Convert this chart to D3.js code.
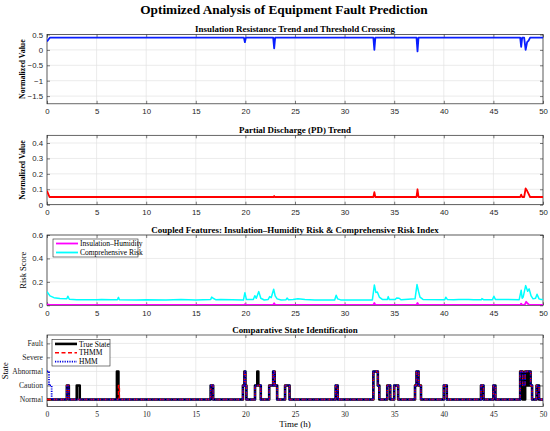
<!DOCTYPE html>
<html><head><meta charset="utf-8">
<script src="https://cdn.jsdelivr.net/npm/d3@7"></script>
<style>body{margin:0;background:#fff}svg{display:block}</style>
</head><body>
<script>
// ---------------- DATA ----------------
const timeTicks = [0,5,10,15,20,25,30,35,40,45,50];
const insTicks = [-1.5,-1,-0.5,0,0.5];
const pdTicks = [0,0.1,0.2,0.3,0.4];
const riskTicks = [0,0.2,0.4,0.6];
const stateLabels = ["Normal","Caution","Abnormal","Severe","Fault"];
const stateLevels = [1,2,3,4,5];

// Insulation resistance (normalized) [t, value]
const insulation = [[0,0.27],[0.3,0.4],[19.85,0.4],[19.95,0.25],[20.05,0.4],[22.8,0.4],[22.9,0.05],[23.0,0.4],
 [32.9,0.4],[33.0,0.0],[33.1,0.4],[37.25,0.4],[37.35,-0.05],[37.45,0.4],[47.7,0.4],[47.8,0.1],[47.9,0.4],
 [48.1,0.4],[48.25,0.0],[48.4,0.25],[48.55,0.3],[48.7,0.4],[50,0.4]];
// Partial discharge [t, value]
const pd = [[0,0.09],[0.25,0.05],[22.85,0.05],[22.9,0.056],[22.95,0.05],[32.9,0.05],[33.0,0.082],[33.1,0.05],
 [37.25,0.05],[37.35,0.10],[37.45,0.05],[47.7,0.05],[47.8,0.065],[47.9,0.05],[48.1,0.05],[48.25,0.105],
 [48.4,0.09],[48.55,0.07],[48.7,0.05],[50,0.05]];
// Insulation–Humidity risk [t, value]
const insHum = [[0,0.008],[0.3,0.003],[19.9,0.003],[19.95,0.01],[20.05,0.003],[22.8,0.003],[22.9,0.018],[23.0,0.003],
 [32.9,0.003],[33.0,0.02],[33.1,0.003],[37.25,0.003],[37.35,0.02],[37.45,0.003],[47.7,0.003],[47.8,0.014],
 [47.9,0.003],[48.15,0.003],[48.3,0.03],[48.45,0.015],[48.6,0.005],[50,0.003]];
// Comprehensive risk [t, value]
const compRisk = [[0,0.117],[0.3,0.08],[0.7,0.065],[1.3,0.058],[2.0,0.055],[2.1,0.078],[2.25,0.052],[3,0.048],
 [5,0.047],[5.5,0.05],[6.5,0.047],[7.1,0.047],[7.2,0.068],[7.3,0.047],[9,0.045],[10,0.047],[12,0.045],
 [13.5,0.05],[15,0.045],[16.5,0.05],[16.6,0.07],[16.75,0.06],[17.0,0.048],[17.5,0.05],[19.8,0.045],
 [19.95,0.108],[20.1,0.05],[20.8,0.05],[20.95,0.082],[21.1,0.06],[21.35,0.117],[21.55,0.06],[21.9,0.045],
 [22.3,0.05],[22.45,0.074],[22.6,0.065],[22.85,0.137],[23.0,0.08],[23.2,0.055],[23.6,0.045],[24.1,0.048],
 [24.2,0.062],[24.35,0.047],[24.8,0.05],[25.3,0.055],[26,0.05],[27,0.046],[29.0,0.046],[29.15,0.086],
 [29.3,0.055],[29.6,0.046],[32.8,0.046],[33.0,0.174],[33.15,0.11],[33.3,0.114],[33.5,0.07],[33.8,0.05],
 [34.3,0.05],[34.4,0.074],[34.5,0.05],[35.1,0.05],[35.25,0.063],[35.5,0.06],[35.7,0.047],[37.1,0.055],
 [37.3,0.177],[37.45,0.12],[37.6,0.07],[37.9,0.05],[40.1,0.047],[40.2,0.069],[40.35,0.05],[41,0.047],
 [41.5,0.05],[42.5,0.05],[43,0.047],[43.8,0.048],[43.85,0.057],[44,0.048],[44.9,0.048],[45.05,0.077],
 [45.2,0.05],[47.6,0.048],[47.8,0.129],[47.9,0.06],[48.0,0.07],[48.25,0.168],[48.45,0.12],[48.6,0.14],
 [48.8,0.08],[49.0,0.055],[49.25,0.06],[49.4,0.094],[49.6,0.055],[49.8,0.05],[50,0.05]];

// State change points [t, state]  (1 Normal .. 5 Fault)
const trueState = [[0,1],[2.0,2],[2.2,1],[3.0,2],[3.3,1],[7.05,3],[7.2,1],[16.5,2],[16.75,1],
 [19.75,2],[19.9,3],[20.0,2],[20.1,1],[20.97,2],[21.2,3],[21.3,2],[21.55,1],[22.4,2],[22.8,3],[22.95,2],[23.2,1],
 [24.0,2],[24.45,1],[29.1,2],[29.3,1],[32.9,3],[33.35,2],[33.5,1],[34.3,2],[34.6,1],[35.0,2],[35.4,1],
 [37.1,2],[37.25,3],[37.45,2],[37.7,1],[40.0,2],[40.3,1],[43.75,2],[44.0,1],[45.0,2],[45.2,1],
 [47.7,3],[47.95,1],[48.02,2],[48.1,1],[48.2,3],[48.35,2],[48.45,3],[48.55,2],[48.62,3],
 [48.75,2],[48.9,1],[49.35,2],[49.6,1],[50,1]];
const thmmState = [[0,1],[2.0,2],[2.2,1],[7.2,2],[7.3,1],[16.5,2],[16.75,1],
 [19.75,2],[19.9,3],[20.0,2],[20.1,1],[20.97,2],[21.55,1],[22.4,2],[22.8,3],[22.95,2],[23.2,1],
 [24.0,2],[24.45,1],[29.1,2],[29.3,1],[32.9,3],[33.35,2],[33.5,1],[34.3,2],[34.6,1],[35.0,2],[35.4,1],
 [37.1,2],[37.25,3],[37.45,2],[37.7,1],[40.0,2],[40.3,1],[43.75,2],[44.0,1],[45.0,2],[45.2,1],
 [47.7,3],[47.95,2],[48.2,3],[48.75,2],[48.9,1],[49.35,2],[49.6,1],[50,1]];
const hmmState = [[0,3],[0.2,2],[0.47,1],[2.0,2],[2.2,1],[16.5,2],[16.75,1],
 [19.75,2],[19.9,3],[20.0,2],[20.1,1],[20.97,2],[21.55,1],[22.4,2],[22.8,3],[22.95,2],[23.2,1],
 [24.0,2],[24.45,1],[29.1,2],[29.3,1],[32.9,3],[33.35,2],[33.5,1],[34.3,2],[34.6,1],[35.0,2],[35.4,1],
 [37.1,2],[37.25,3],[37.45,2],[37.7,1],[40.0,2],[40.3,1],[43.75,2],[44.0,1],[45.0,2],[45.2,1],
 [47.7,3],[47.95,2],[48.2,3],[48.75,2],[48.9,1],[49.35,2],[49.6,1],[50,1]];

// ---------------- DRAW ----------------
const W = 550, H = 431;
const SERIF = "'Liberation Serif','Times New Roman',serif";
const SANS = "'Liberation Sans',Arial,Helvetica,sans-serif";
const svg = d3.select("body").append("svg").attr("width", W).attr("height", H);
const L = 47, R = 543;
const x = d3.scaleLinear().domain([0, 50]).range([L, R]);

svg.append("text").attr("x", 284).attr("y", 14).attr("text-anchor", "middle")
  .style("font-family", SERIF).style("font-weight", "bold").style("font-size", "13.3px")
  .text("Optimized Analysis of Equipment Fault Prediction");

function panel(o) {
  const y = d3.scaleLinear().domain(o.domain).range([o.bottom, o.top]);
  const g = svg.append("g");
  g.selectAll(".gx").data(timeTicks).join("line")
    .attr("x1", d => x(d)).attr("x2", d => x(d)).attr("y1", o.top).attr("y2", o.bottom)
    .attr("stroke", "#e3e3e3").attr("stroke-width", 0.7);
  g.selectAll(".gy").data(o.yticks).join("line")
    .attr("x1", L).attr("x2", R).attr("y1", d => y(d)).attr("y2", d => y(d))
    .attr("stroke", "#e3e3e3").attr("stroke-width", 0.7);
  const tickFont = o.serifTicks ? SERIF : SANS;
  const fs = o.serifTicks ? "7.6px" : "7.8px";
  const ax = g.append("g").attr("transform", `translate(0,${o.bottom})`)
    .call(d3.axisBottom(x).tickValues(timeTicks).tickSize(-3).tickPadding(5).tickFormat(d3.format("d")));
  const axT = g.append("g").attr("transform", `translate(0,${o.top})`)
    .call(d3.axisTop(x).tickValues(timeTicks).tickSize(-3).tickFormat(""));
  const ay = g.append("g").attr("transform", `translate(${L},0)`)
    .call(d3.axisLeft(y).tickValues(o.yticks).tickSize(-3).tickPadding(4).tickFormat(o.fmt));
  const ayR = g.append("g").attr("transform", `translate(${R},0)`)
    .call(d3.axisRight(y).tickValues(o.yticks).tickSize(-3).tickFormat(""));
  [ax, axT, ay, ayR].forEach(a => {
    a.attr("font-size", null).attr("font-family", null);
    a.select(".domain").remove();
    a.selectAll("line").attr("stroke", "#262626").attr("stroke-width", 0.6);
    a.selectAll("text").style("font-family", tickFont).style("font-size", fs).attr("fill", "#262626");
  });
  g.append("rect").attr("x", L).attr("y", o.top).attr("width", R - L).attr("height", o.bottom - o.top)
    .attr("fill", "none").attr("stroke", "#262626").attr("stroke-width", 0.7);
  svg.append("text").attr("x", 295).attr("y", o.top - 2.5).attr("text-anchor", "middle")
    .style("font-family", SERIF).style("font-weight", "bold").style("font-size", "8.95px").text(o.title);
  svg.append("text").attr("transform", `translate(${o.ylx},${(o.top + o.bottom) / 2}) rotate(-90)`)
    .attr("text-anchor", "middle").style("font-family", SERIF)
    .style("font-weight", o.ylBold ? "bold" : "normal").style("font-size", o.ylSize || "8.5px").text(o.ylabel);
  const clip = "clip" + Math.round(o.top);
  svg.append("clipPath").attr("id", clip).append("rect")
    .attr("x", L).attr("y", o.top).attr("width", R - L).attr("height", o.bottom - o.top);
  const plot = svg.append("g").attr("clip-path", `url(#${clip})`);
  return { y, plot };
}

function drawLine(p, data, color, w, dash, curve) {
  const line = d3.line().x(d => x(d[0])).y(d => p.y(d[1])).curve(curve || d3.curveLinear);
  p.plot.append("path").datum(data).attr("d", line).attr("fill", "none")
    .attr("stroke", color).attr("stroke-width", w).attr("stroke-linejoin", "round")
    .attr("stroke-dasharray", dash || null);
}

function legend(items, bx, by, bw, bh) {
  const g = svg.append("g");
  g.append("rect").attr("x", bx).attr("y", by).attr("width", bw).attr("height", bh)
    .attr("fill", "#fff").attr("stroke", "#262626").attr("stroke-width", 0.6);
  const step = bh / items.length;
  items.forEach((it, i) => {
    const yy = by + step * (i + 0.5);
    g.append("line").attr("x1", bx + 3).attr("x2", bx + 25).attr("y1", yy).attr("y2", yy)
      .attr("stroke", it.color).attr("stroke-width", it.w).attr("stroke-dasharray", it.dash || null);
    g.append("text").attr("x", bx + 27).attr("y", yy + 2.7).style("font-family", SERIF)
      .style("font-size", "7.5px").text(it.label);
  });
}

const p1 = panel({ top: 34.5, bottom: 103.8, domain: [-1.75, 0.5], yticks: insTicks, fmt: d3.format("~g"),
  title: "Insulation Resistance Trend and Threshold Crossing", ylabel: "Normalized Value", ylx: 25, ylBold: true, ylSize: "7.8px" });
drawLine(p1, insulation, "#0a1fff", 1.8);

const p2 = panel({ top: 135.3, bottom: 204.7, domain: [0, 0.45], yticks: pdTicks, fmt: d3.format("~g"),
  title: "Partial Discharge (PD) Trend", ylabel: "Normalized Value", ylx: 25, ylBold: true, ylSize: "7.8px" });
drawLine(p2, pd, "#ff0000", 1.8);

const p3 = panel({ top: 235, bottom: 305.3, domain: [0, 0.6], yticks: riskTicks, fmt: d3.format("~g"),
  title: "Coupled Features: Insulation–Humidity Risk & Comprehensive Risk Index", ylabel: "Risk Score", ylx: 26 });
drawLine(p3, insHum, "#ff00ff", 1.8);
drawLine(p3, compRisk, "#00ffff", 1.5);
legend([{ label: "Insulation–Humidity", color: "#ff00ff", w: 1.8 },
        { label: "Comprehensive Risk", color: "#00ffff", w: 1.8 }], 53, 239, 85, 18);

const p4 = panel({ top: 335, bottom: 406.5, domain: [0.5, 5.6], yticks: stateLevels,
  fmt: d => stateLabels[d - 1], serifTicks: true,
  title: "Comparative State Identification", ylabel: "State", ylx: 8, ylSize: "8.5px" });
drawLine(p4, trueState, "#000000", 2.6, null, d3.curveStepAfter);
drawLine(p4, thmmState, "#ff0000", 1.4, "4,2.5", d3.curveStepAfter);
drawLine(p4, hmmState, "#0000e0", 1.8, "1.2,1.2", d3.curveStepAfter);
legend([{ label: "True State", color: "#000", w: 2.6 },
        { label: "THMM", color: "#ff0000", w: 1.4, dash: "4,2.5" },
        { label: "HMM", color: "#0000e0", w: 1.8, dash: "1.2,1.2" }], 52, 339.5, 58, 26.5);

svg.append("text").attr("x", 295).attr("y", 427).attr("text-anchor", "middle")
  .style("font-family", SERIF).style("font-size", "9px").text("Time (h)");
</script>
</body></html>
